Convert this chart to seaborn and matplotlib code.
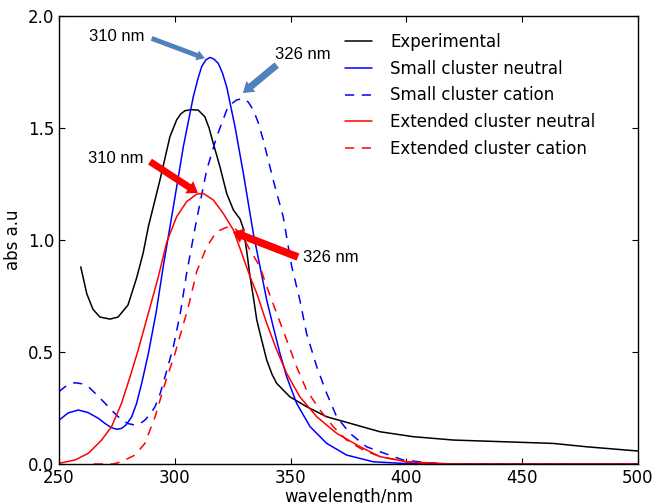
import numpy as np
import pandas as pd
import seaborn as sns
import matplotlib.pyplot as plt

# ---- data ----
exp_x = [259.4, 262.0, 264.7, 267.7, 272.0, 275.5, 279.8, 283.5, 286.3, 288.6, 291.0,
         293.6, 297.9, 300.8, 302.5, 304.4, 307.0, 310.1, 313.0, 314.8, 316.6, 319.5,
         322.4, 325.3, 328.2, 329.4, 331.0, 332.5, 333.9, 335.4, 337.5, 339.7, 342.0,
         344.0, 349.7, 356.9, 365.6, 375.6, 388.6, 403.0, 420.3, 449.0, 463.3, 477.8,
         500.0]
exp_y = [0.88, 0.76, 0.69, 0.656, 0.647, 0.656, 0.71, 0.83, 0.94, 1.06, 1.16,
         1.268, 1.461, 1.536, 1.562, 1.577, 1.582, 1.580, 1.55, 1.50, 1.432, 1.327,
         1.208, 1.134, 1.093, 1.058, 0.955, 0.836, 0.747, 0.643, 0.554, 0.464, 0.40,
         0.36, 0.30, 0.256, 0.211, 0.182, 0.144, 0.122, 0.107, 0.097, 0.092, 0.077,
         0.058]

scn_x = [250.0, 254.0, 258.3, 262.5, 267.0, 270.0, 272.7, 275.0, 277.0, 279.0, 281.4,
         283.5, 285.7, 288.6, 292.0, 295.0, 299.4, 303.7, 308.0, 310.0, 311.6, 313.4,
         315.2, 317.0, 318.8, 320.6, 322.4, 326.0, 329.6, 333.9, 336.8, 339.7, 342.5,
         345.4, 348.3, 352.6, 358.4, 365.6, 374.2, 385.7, 400.0, 420.0, 500.0]
scn_y = [0.196, 0.228, 0.241, 0.230, 0.204, 0.180, 0.162, 0.155, 0.159, 0.175, 0.211,
         0.27, 0.36, 0.494, 0.68, 0.881, 1.149, 1.417, 1.64, 1.72, 1.774, 1.804,
         1.815, 1.807, 1.788, 1.745, 1.684, 1.506, 1.298, 1.03, 0.881, 0.732, 0.613,
         0.494, 0.39, 0.271, 0.167, 0.092, 0.04, 0.01, 0.002, 0.0, 0.0]

scc_x = [250.0, 253.5, 256.9, 260.0, 262.7, 266.0, 269.9, 273.5, 277.1, 280.0, 282.8,
         285.0, 287.1, 289.3, 291.5, 293.7, 295.8, 299.4, 302.5, 305.1, 309.4, 313.8,
         318.1, 322.4, 324.5, 326.7, 329.6, 331.8, 333.9, 336.0, 338.2, 342.5, 346.8,
         350.5, 354.0, 356.9, 361.3, 365.6, 369.9, 375.6, 382.8, 388.6, 398.5, 410.0,
         420.0, 500.0]
scc_y = [0.323, 0.352, 0.363, 0.358, 0.345, 0.312, 0.271, 0.232, 0.196, 0.180, 0.174,
         0.180, 0.196, 0.222, 0.256, 0.315, 0.39, 0.524, 0.68, 0.851, 1.089, 1.313,
         1.461, 1.58, 1.608, 1.625, 1.632, 1.615, 1.58, 1.525, 1.446, 1.268, 1.104,
         0.881, 0.732, 0.583, 0.434, 0.315, 0.211, 0.137, 0.077, 0.055, 0.018, 0.005,
         0.0, 0.0]

ecn_x = [250.0, 256.9, 262.7, 268.4, 272.7, 277.0, 280.7, 284.2, 288.5, 292.9, 296.5,
         300.8, 305.1, 309.5, 312.3, 316.6, 320.9, 325.3, 328.9, 332.5, 335.4, 339.7,
         344.0, 348.3, 354.0, 361.3, 369.9, 380.0, 388.6, 400.0, 420.0, 500.0]
ecn_y = [0.003, 0.018, 0.048, 0.107, 0.167, 0.271, 0.39, 0.509, 0.67, 0.836, 0.99,
         1.104, 1.171, 1.205, 1.208, 1.179, 1.119, 1.045, 0.941, 0.836, 0.762, 0.628,
         0.509, 0.405, 0.30, 0.211, 0.137, 0.077, 0.033, 0.01, 0.0, 0.0]

ecc_x = [265.0, 273.4, 277.0, 282.8, 287.1, 291.5, 295.8, 300.1, 305.8, 309.5, 313.8,
         318.1, 322.4, 325.3, 328.5, 332.5, 336.8, 339.7, 344.0, 348.3, 352.6, 356.9,
         362.7, 368.4, 374.2, 381.4, 388.6, 400.0, 410.0, 500.0]
ecc_y = [0.0, 0.0, 0.01, 0.04, 0.092, 0.211, 0.36, 0.494, 0.7, 0.86, 0.97,
         1.037, 1.057, 1.055, 1.03, 0.955, 0.881, 0.792, 0.673, 0.554, 0.434, 0.33,
         0.241, 0.167, 0.107, 0.062, 0.033, 0.01, 0.0, 0.0]

# arrows: (label, text pos, tail, tip)
arrow_labels = ['310 nm', '326 nm', '310 nm', '326 nm']
arrow_text_xy = [(287.1, 1.908), (343.3, 1.826), (286.3, 1.366), (355.4, 0.92)]
arrow_tail = [(290.0, 1.900), (344.0, 1.781), (289.3, 1.350), (353.2, 0.924)]
arrow_tip = [(313.0, 1.811), (329.4, 1.656), (310.0, 1.210), (325.1, 1.036)]

# ---- plot ----
sns.set_theme(style='ticks', rc={
    'xtick.direction': 'in', 'ytick.direction': 'in',
    'xtick.top': True, 'ytick.right': True,
    'axes.edgecolor': 'black', 'axes.linewidth': 1.0,
    'xtick.major.size': 4, 'ytick.major.size': 4,
    'xtick.major.width': 0.8, 'ytick.major.width': 0.8,
    'xtick.color': 'black', 'ytick.color': 'black',
    'text.color': 'black', 'axes.labelcolor': 'black',
})
plt.rcParams['font.family'] = ['DejaVu Sans']

fig = plt.figure(figsize=(6.54, 5.03), dpi=100)
ax = fig.add_axes([0.0902, 0.0775, 0.8853, 0.8907])

dash = (0, (6, 5))
sns.lineplot(x=exp_x, y=exp_y, ax=ax, color='black', lw=1.1, sort=False, label='Experimental')
sns.lineplot(x=scn_x, y=scn_y, ax=ax, color='blue', lw=1.1, sort=False, label='Small cluster neutral')
sns.lineplot(x=scc_x, y=scc_y, ax=ax, color='blue', lw=1.1, sort=False, linestyle=dash,
             label='Small cluster cation')
sns.lineplot(x=ecn_x, y=ecn_y, ax=ax, color='red', lw=1.1, sort=False, label='Extended cluster neutral')
sns.lineplot(x=ecc_x, y=ecc_y, ax=ax, color='red', lw=1.1, sort=False, linestyle=dash,
             label='Extended cluster cation')

ax.set_xlim(250, 500)
ax.set_ylim(0, 2.0)
ax.set_xticks([250, 300, 350, 400, 450, 500])
ax.set_yticks([0.0, 0.5, 1.0, 1.5, 2.0])
ax.set_yticklabels(['0.0', '0.5', '1.0', '1.5', '2.0'])
ax.tick_params(labelsize=12)
ax.set_xlabel('wavelength/nm', fontsize=12, labelpad=1)
ax.set_ylabel('abs a.u', fontsize=12)

# arrows pointing at the peaks
arrow_colors = ['#4f81bd', '#4f81bd', 'red', 'red']
arrow_styles = ['simple,head_length=0.6,head_width=0.75,tail_width=0.35',
                'simple,head_length=0.75,head_width=1.0,tail_width=0.5',
                'simple,head_length=0.75,head_width=1.05,tail_width=0.5',
                'simple,head_length=0.75,head_width=1.1,tail_width=0.55']
for i in range(4):
    ax.annotate('', xy=arrow_tip[i], xytext=arrow_tail[i],
                arrowprops=dict(arrowstyle=arrow_styles[i], mutation_scale=10,
                                color=arrow_colors[i], shrinkA=0, shrinkB=0, lw=0))
    ha = 'right' if i in (0, 2) else 'left'
    ax.text(arrow_text_xy[i][0], arrow_text_xy[i][1], arrow_labels[i], ha=ha, va='center',
            fontsize=12, family='Liberation Sans')

ax.legend(loc='upper left', bbox_to_anchor=(0.494, 0.962), frameon=False, fontsize=12,
          borderpad=0, borderaxespad=0, handlelength=1.6, handletextpad=1.1, labelspacing=0.52)

plt.savefig('out.png', dpi=100)
